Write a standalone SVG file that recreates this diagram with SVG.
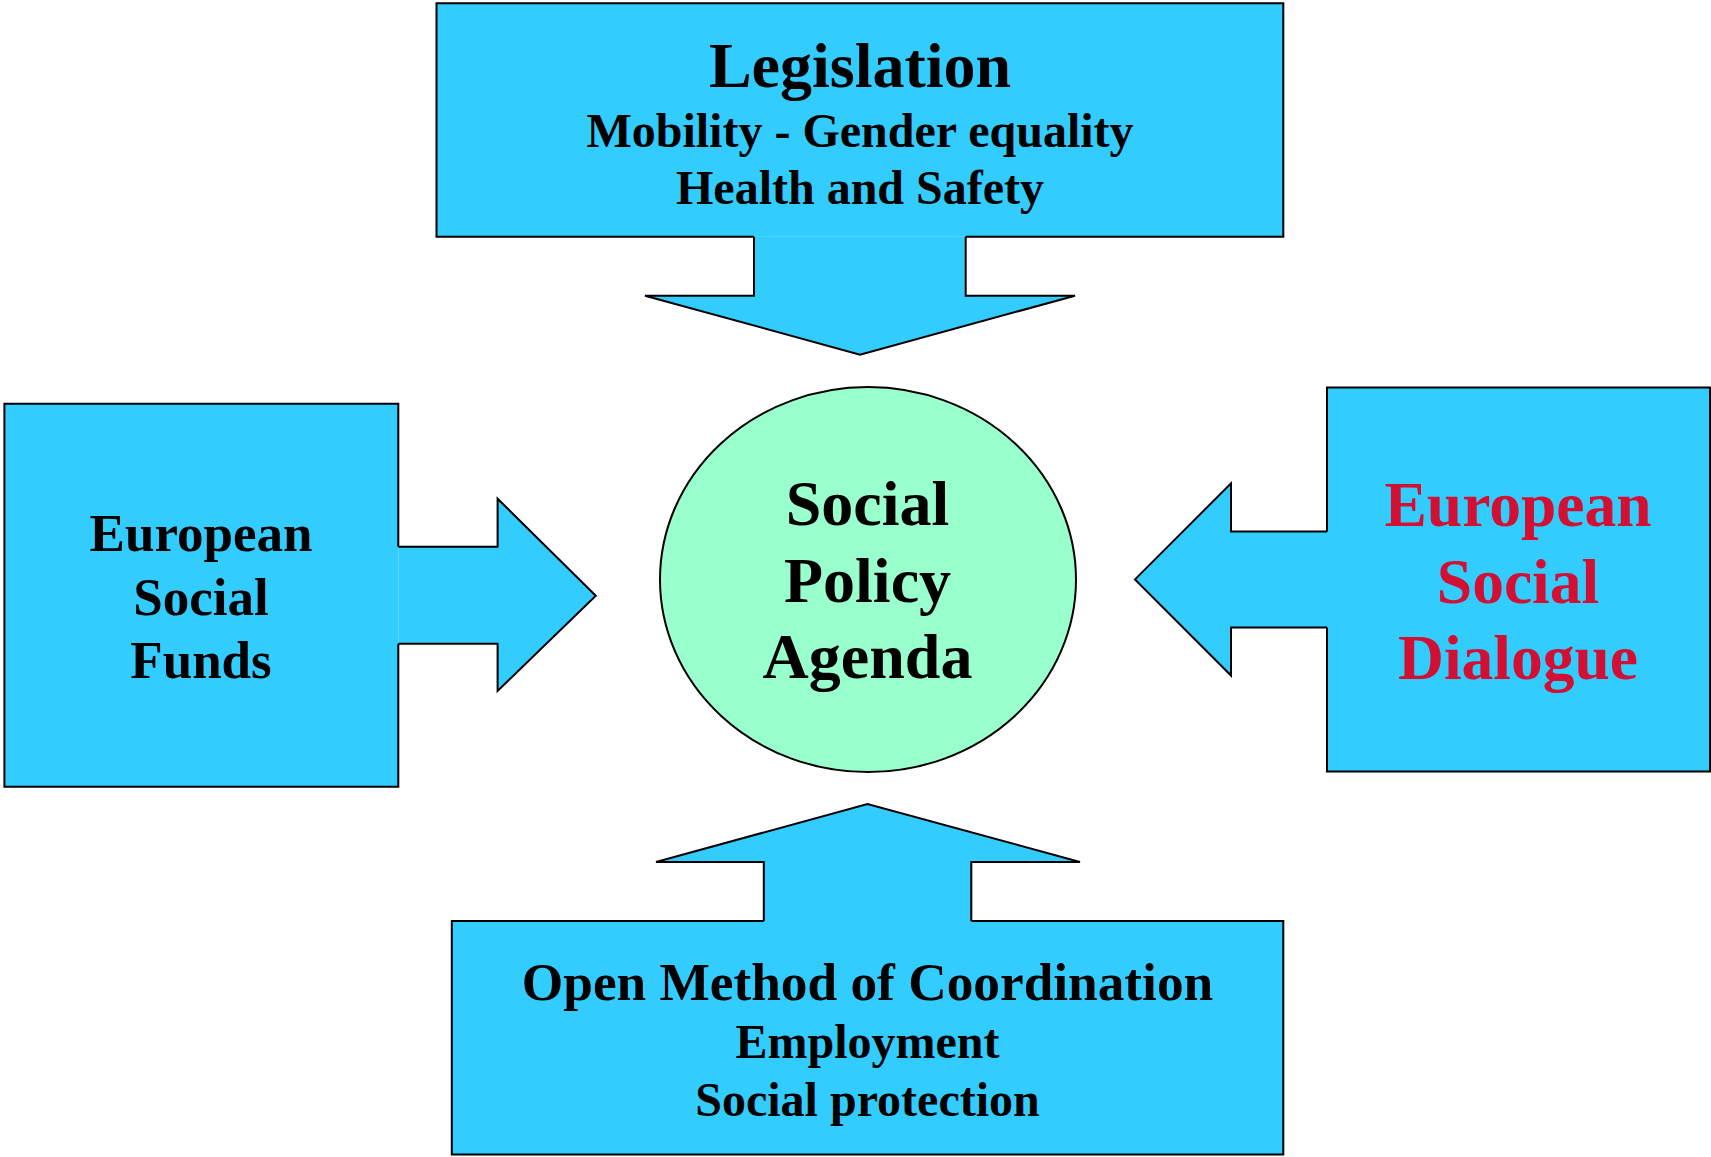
<svg xmlns="http://www.w3.org/2000/svg" width="1711" height="1157" viewBox="0 0 1711 1157">
<style>
.bg{fill:#33CCFF;stroke:none}
.edge{fill:none;stroke:#000;stroke-width:2;stroke-linejoin:miter}
.arrow{fill:#33CCFF;stroke:#000;stroke-width:2;stroke-linejoin:miter}
.t{font-family:"Liberation Serif","Times New Roman",serif;font-weight:bold;text-anchor:middle;fill:#000}
.red{fill:#D21034}
</style>
<rect width="1711" height="1157" fill="#fff"/>
<g id="legislation">
<rect class="bg" x="436.5" y="3.3" width="846.8" height="233.5"/>
<path class="edge" d="M754,236.8 H436.5 V3.3 H1283.3 V236.8 H965.7"/>
<text class="t" x="860" y="87" font-size="64">Legislation</text>
<text class="t" x="860" y="147" font-size="48">Mobility - Gender equality</text>
<text class="t" x="860" y="204" font-size="48">Health and Safety</text>
</g>
<g id="esf">
<rect class="bg" x="4.4" y="403.7" width="393.9" height="383.1"/>
<path class="edge" d="M398.3,546.7 V403.7 H4.4 V786.8 H398.3 V643.8"/>
<text class="t" x="201" y="551" font-size="53">European</text>
<text class="t" x="201" y="615" font-size="53">Social</text>
<text class="t" x="201" y="678" font-size="53">Funds</text>
</g>
<g id="social-dialogue">
<rect class="bg" x="1327" y="387.4" width="383" height="384.1"/>
<path class="edge" d="M1327,531.4 V387.4 H1710 V771.5 H1327 V627.4"/>
<text class="t red" x="1518" y="526" font-size="63.5">European</text>
<text class="t red" x="1518" y="603" font-size="63.5">Social</text>
<text class="t red" x="1518" y="679" font-size="63.5">Dialogue</text>
</g>
<g id="omc">
<rect class="bg" x="451.8" y="921" width="831.5" height="233.5"/>
<path class="edge" d="M763.8,921 H451.8 V1154.5 H1283.3 V921 H971.3"/>
<text class="t" x="867.5" y="1000" font-size="53.3">Open Method of Coordination</text>
<text class="t" x="867.5" y="1058" font-size="48">Employment</text>
<text class="t" x="867.5" y="1116" font-size="48">Social protection</text>
</g>
<g id="agenda">
<ellipse cx="868" cy="579.6" rx="208" ry="192.5" fill="#99FFCC" stroke="#000" stroke-width="2"/>
<text class="t" x="867.5" y="525" font-size="64">Social</text>
<text class="t" x="867.5" y="602" font-size="64">Policy</text>
<text class="t" x="867.5" y="678" font-size="64">Agenda</text>
</g>
<g id="connectors">
<path class="arrow" d="M754,236.8 V295.7 H645 L860,354.6 L1075,295.7 H965.7 V236.8"/>
<path class="arrow" d="M398.3,546.7 H497.6 V498.7 L595.8,595.8 L497.6,691 V643.8 H398.3"/>
<path class="arrow" d="M1327,531.4 H1231 V483.4 L1135,579.4 L1231,675.5 V627.4 H1327"/>
<path class="arrow" d="M763.8,921 V862 H656 L867.5,804 L1080,862 H971.3 V921"/>
</g>
</svg>
